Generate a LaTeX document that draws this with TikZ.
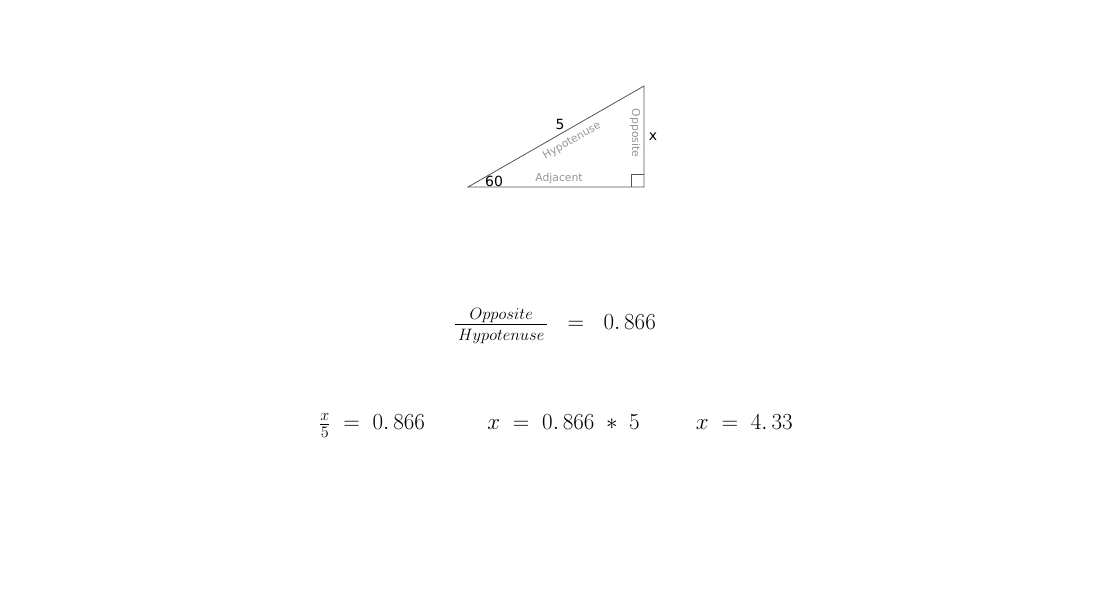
\RequirePackage{fix-cm}
\documentclass[tikz,border=0pt]{standalone}
\usepackage{fontspec}
\newfontfamily\labelfont{DejaVu Sans}
\usetikzlibrary{positioning}
\definecolor{edgegray}{RGB}{85,85,85}
\definecolor{softgray}{RGB}{150,150,150}
\newcommand{\fracword}[1]{\mbox{\fontsize{16.5}{19}\selectfont$#1$}}

\begin{document}
\begin{tikzpicture}[
    x=1pt, y=1pt,
    side/.style={draw=edgegray, line width=0.8pt},
    tag/.style={font=\labelfont\fontsize{10.8}{12}\selectfont, text=softgray, inner sep=0pt},
    value/.style={font=\labelfont\fontsize{14}{16}\selectfont, inner sep=0pt},
    eqn/.style={font=\fontsize{23}{27}\selectfont, inner sep=0pt, anchor=base west}
  ]
    \useasboundingbox (0,0) rectangle (1114,595);

    % triangle
    \coordinate (A) at (468,408);
    \coordinate (B) at (644,408);
    \coordinate (C) at (644,509);
    \draw[side] (A) -- (B) -- (C) -- cycle;
    \draw[side] ([xshift=-13pt]B) -- ++(0,13) -- ++(13,0);

    \node[tag, rotate=29.9] (hyp) at (572,454) {Hypotenuse};
    \node[tag, rotate=-90] (opp) at (635,462) {Opposite};
    \node[tag] (adj) at (559,416) {Adjacent};
    \node[value] (hyplen) at (560,471) {5};
    \node[value] (opplen) at (653,458) {x};
    \node[value] (angle) at (494,414) {60};

    % equations
    \node[eqn] (ratio) at (454,265) {$\frac{\,\fracword{Opposite}\rule[-4pt]{0pt}{4pt}\,}{\,\fracword{Hypotenuse}\rule{0pt}{16pt}\,}\mathrel{\hspace{13pt}=\hspace{13pt}}0.\,866$};
    \node[eqn] (ratiox) at (319,165) {$\frac{x}{5} \;=\; 0.\,866$};
    \node[eqn, right=62pt of ratiox.base east, anchor=base west] (product) {$x \;=\; 0.\,866 \;\ast\; 5$};
    \node[eqn, right=56pt of product.base east, anchor=base west] (result) {$x \;=\; 4.\,33$};
  \end{tikzpicture}
\end{document}
